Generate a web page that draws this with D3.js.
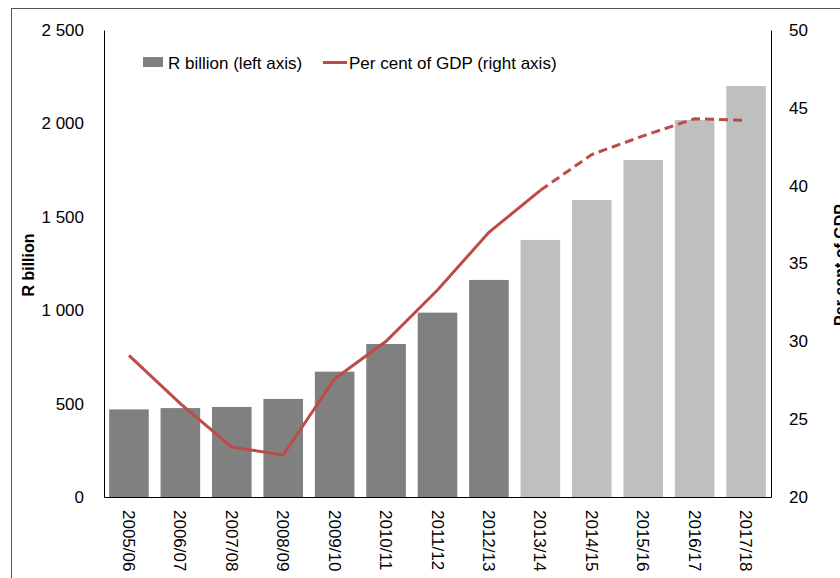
<!DOCTYPE html>
<html>
<head>
<meta charset="utf-8">
<script src="https://cdn.jsdelivr.net/npm/d3@7"></script>
<style>
  body { margin: 0; background: #fff; }
  text { font-family: Arial, "Liberation Sans", sans-serif; }
</style>
</head>
<body>
<script>
// debt: R billion bars + per cent of GDP line

var years = ["2005/06", "2006/07", "2007/08", "2008/09", "2009/10", "2010/11", "2011/12",
             "2012/13", "2013/14", "2014/15", "2015/16", "2016/17", "2017/18"];
var rBillion = [469, 476, 482, 525, 671, 819, 987, 1162, 1376, 1590, 1804, 2018, 2200];
var pctGdp = [29.1, 26.0, 23.2, 22.7, 27.6, 30.0, 33.3, 37.0, 39.7, 42.0, 43.2, 44.3, 44.2];
var leftTicks = [0, 500, 1000, 1500, 2000, 2500];
var rightTicks = [20, 25, 30, 35, 40, 45, 50];
var firstForecast = 8; // 2013/14 onwards are projections

var W = 840, H = 578;
var margin = {top: 30, right: 69, bottom: 81, left: 104},
    width = W - margin.left - margin.right,
    height = H - margin.top - margin.bottom;

var svg = d3.select("body").append("svg")
    .attr("width", W)
    .attr("height", H);

// outer frame
svg.append("rect")
    .attr("x", 11.5).attr("y", 8.5)
    .attr("width", W).attr("height", H)
    .attr("fill", "none")
    .attr("stroke", "#555");

var g = svg.append("g")
    .attr("transform", "translate(" + margin.left + "," + margin.top + ")");

var x = d3.scaleBand().domain(years).range([0, width]).paddingInner(0.23).paddingOuter(0.1);
var yL = d3.scaleLinear().domain([0, 2500]).range([height, 0]);
var yR = d3.scaleLinear().domain([20, 50]).range([height, 0]);

var fmt = function(d) { return d3.format(",")(d).replace(/,/g, " "); };

// bars
g.selectAll("rect.bar")
  .data(years)
  .enter().append("rect")
    .attr("class", "bar")
    .attr("x", function(d) { return x(d); })
    .attr("width", x.bandwidth())
    .attr("y", function(d, i) { return yL(rBillion[i]); })
    .attr("height", function(d, i) { return height - yL(rBillion[i]); })
    .attr("fill", function(d, i) { return i < firstForecast ? "#808080" : "#bfbfbf"; });

// line
var pts = years.map(function(d, i) { return [x(d) + x.bandwidth() / 2, yR(pctGdp[i])]; });
var line = d3.line();
g.append("path")
    .attr("d", line(pts.slice(0, firstForecast + 1)))
    .attr("fill", "none").attr("stroke", "#be4b48").attr("stroke-width", 3);
g.append("path")
    .attr("d", line(pts.slice(firstForecast)))
    .attr("fill", "none").attr("stroke", "#be4b48").attr("stroke-width", 3)
    .attr("stroke-dasharray", "9,5");

// axes
var axL = g.append("g").call(d3.axisLeft(yL).tickValues(leftTicks).tickSize(0).tickPadding(20).tickFormat(fmt));
var axR = g.append("g").attr("transform", "translate(" + width + ",0)")
    .call(d3.axisRight(yR).tickValues(rightTicks).tickSize(0).tickPadding(18));
var axB = g.append("g").attr("transform", "translate(0," + height + ")")
    .call(d3.axisBottom(x).tickSize(0));

[axL, axR, axB].forEach(function(a) {
  a.select(".domain").attr("stroke", "#000");
  a.selectAll("text").attr("font-size", 17).attr("fill", "#000")
    .style("font-family", "Arial, 'Liberation Sans', sans-serif");
});
axB.selectAll("text")
    .attr("transform", "rotate(90)")
    .attr("text-anchor", "start")
    .attr("x", 13).attr("y", 0).attr("dy", "0.35em");

// axis titles
svg.append("text")
    .attr("transform", "translate(34,265) rotate(-90)")
    .attr("text-anchor", "middle")
    .attr("font-size", 16).attr("font-weight", "bold")
    .text("R billion");
svg.append("text")
    .attr("transform", "translate(846,265) rotate(-90)")
    .attr("text-anchor", "middle")
    .attr("font-size", 16).attr("font-weight", "bold")
    .text("Per cent of GDP");

// legend
var leg = svg.append("g");
leg.append("rect").attr("x", 143).attr("y", 57).attr("width", 20).attr("height", 10).attr("fill", "#808080");
leg.append("text").attr("x", 168).attr("y", 68.5).attr("font-size", 17).text("R billion (left axis)");
leg.append("line").attr("x1", 323).attr("x2", 347).attr("y1", 62.5).attr("y2", 62.5)
    .attr("stroke", "#be4b48").attr("stroke-width", 3);
leg.append("text").attr("x", 349).attr("y", 68.5).attr("font-size", 17).text("Per cent of GDP (right axis)");
</script>
</body>
</html>
